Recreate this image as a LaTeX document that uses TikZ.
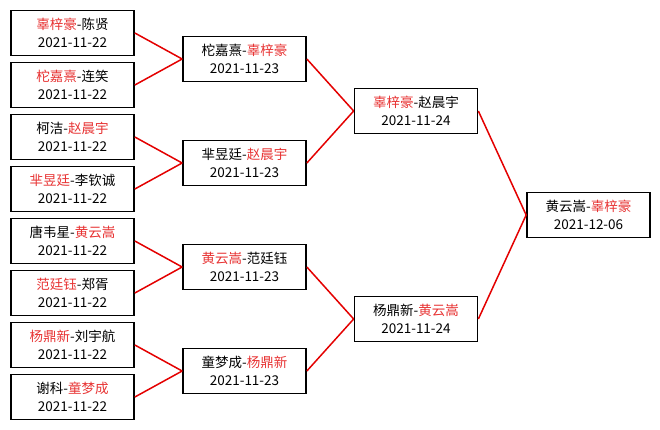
\documentclass[tikz,border=0pt]{standalone}
\usepackage{xcolor}
\usepackage{fontspec}
\setmainfont{Noto Sans CJK SC}
\usepackage{tikz}
\usetikzlibrary{positioning}

\definecolor{winred}{RGB}{232,52,52}
\definecolor{linkred}{RGB}{228,0,0}

\begin{document}
\begin{tikzpicture}[x=1pt, y=-1pt,
        match/.style={draw=black, line width=1.7pt, fill=white, minimum width=123pt, minimum height=45pt, inner sep=1pt, align=center, font=\fontsize{13.5}{18.5}\selectfont},
        link/.style={draw=linkred, line width=1.5pt}]
        \fill[white] (0,0) rectangle (660,429);
        \useasboundingbox (0,0) rectangle (660,429);

        % Round 1
        \node[match] (a1) at (72.5, 33) {\textcolor{winred}{辜梓豪}-陈贤\\2021-11-22};
        \node[match] (a2) at (72.5, 85) {\textcolor{winred}{柁嘉熹}-连笑\\2021-11-22};
        \node[match] (a3) at (72.5, 137) {柯洁-\textcolor{winred}{赵晨宇}\\2021-11-22};
        \node[match] (a4) at (72.5, 189) {\textcolor{winred}{芈昱廷}-李钦诚\\2021-11-22};
        \node[match] (a5) at (72.5, 241) {唐韦星-\textcolor{winred}{黄云嵩}\\2021-11-22};
        \node[match] (a6) at (72.5, 293) {\textcolor{winred}{范廷钰}-郑胥\\2021-11-22};
        \node[match] (a7) at (72.5, 345) {\textcolor{winred}{杨鼎新}-刘宇航\\2021-11-22};
        \node[match] (a8) at (72.5, 397) {谢科-\textcolor{winred}{童梦成}\\2021-11-22};

        % Round 2
        \node[match] (b1) at (244.5, 59) {柁嘉熹-\textcolor{winred}{辜梓豪}\\2021-11-23};
        \node[match] (b2) at (244.5, 163) {芈昱廷-\textcolor{winred}{赵晨宇}\\2021-11-23};
        \node[match] (b3) at (244.5, 267) {\textcolor{winred}{黄云嵩}-范廷钰\\2021-11-23};
        \node[match] (b4) at (244.5, 371) {童梦成-\textcolor{winred}{杨鼎新}\\2021-11-23};

        % Semifinals
        \node[match] (c1) at (416, 111) {\textcolor{winred}{辜梓豪}-赵晨宇\\2021-11-24};
        \node[match] (c2) at (416, 319) {杨鼎新-\textcolor{winred}{黄云嵩}\\2021-11-24};

        % Final
        \node[match] (fin) at (588.5, 215) {黄云嵩-\textcolor{winred}{辜梓豪}\\2021-12-06};

        \draw[link] (a1.east) -- (b1.west);
        \draw[link] (a2.east) -- (b1.west);
        \draw[link] (a3.east) -- (b2.west);
        \draw[link] (a4.east) -- (b2.west);
        \draw[link] (a5.east) -- (b3.west);
        \draw[link] (a6.east) -- (b3.west);
        \draw[link] (a7.east) -- (b4.west);
        \draw[link] (a8.east) -- (b4.west);
        \draw[link] (b1.east) -- (c1.west);
        \draw[link] (b2.east) -- (c1.west);
        \draw[link] (b3.east) -- (c2.west);
        \draw[link] (b4.east) -- (c2.west);
        \draw[link] (c1.east) -- (fin.west);
        \draw[link] (c2.east) -- (fin.west);
    \end{tikzpicture}
\end{document}
